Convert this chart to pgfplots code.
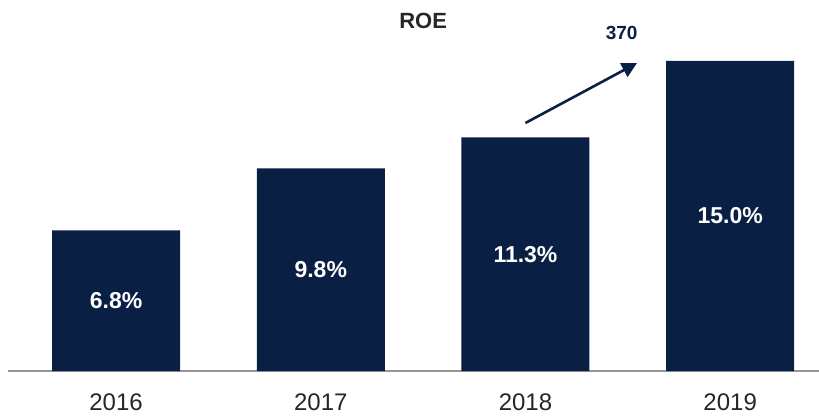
\documentclass[border=0pt]{standalone}
\usepackage{pgfplots}
\pgfplotsset{compat=1.18}
\usepackage{fontspec}
\setmainfont{Liberation Sans}
\usetikzlibrary{arrows.meta}
\definecolor{navy}{RGB}{10,31,68}
\definecolor{axgray}{RGB}{150,150,150}
\begin{document}
\begin{tikzpicture}
\useasboundingbox (-8pt,-44pt) rectangle (811pt,371pt);
\begin{axis}[
  at={(0,0)}, anchor=south west,
  scale only axis,
  width=811pt, height=371pt,
  xmin=-0.528, xmax=3.434,
  ymin=0, ymax=17.95,
  clip=false,
  axis y line=none,
  axis x line*=bottom,
  x axis line style={draw=axgray, line width=1.2pt, -},
  xtick={0,1,2,3},
  xticklabels={2016,2017,2018,2019},
  major tick length=0pt,
  xticklabel style={font=\fontsize{24}{28}\selectfont, text=black!85, anchor=base, yshift=-39pt},
  ytick=\empty,
]
\addplot[ybar, bar width=128pt, fill=navy, draw=none] coordinates {(0,6.8) (1,9.8) (2,11.3) (3,15.0)};
\addplot[draw=none, mark=none, nodes near coords, point meta=explicit symbolic,
  nodes near coords align={center},
  every node near coord/.append style={anchor=center, text=white, font=\bfseries\fontsize{23}{26}\selectfont}]
  coordinates {(0,3.4)[6.8\%] (1,4.9)[9.8\%] (2,5.65)[11.3\%] (3,7.5)[15.0\%]};
\node[font=\bfseries\fontsize{22}{26}\selectfont, text=black!85] at (axis cs:1.5,16.96) {ROE};
\node[font=\bfseries\fontsize{19}{22}\selectfont, text=navy] at (axis cs:2.47,16.35) {370};
\draw[navy, line width=2.6pt, -{Triangle[length=15pt,width=15pt]}] (axis cs:2.0,12.0) -- (axis cs:2.545,14.9);
\end{axis}
\end{tikzpicture}
\end{document}
